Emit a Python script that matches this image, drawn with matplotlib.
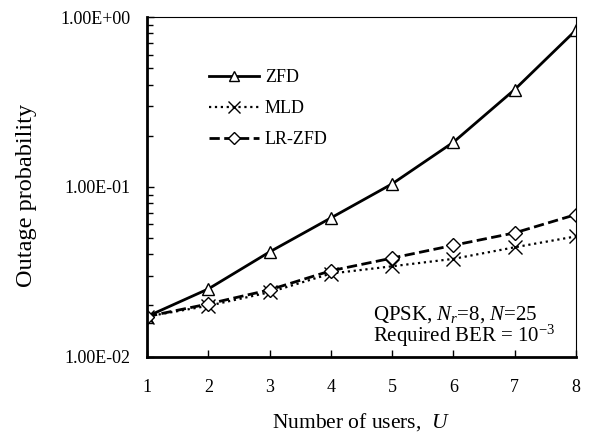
import numpy as np
import matplotlib.pyplot as plt
from matplotlib.ticker import FixedLocator, LogLocator, NullFormatter, FuncFormatter

plt.rcParams["font.family"] = ["Liberation Serif", "DejaVu Serif"]
plt.rcParams["mathtext.fontset"] = "custom"
plt.rcParams["mathtext.rm"] = "Liberation Serif"
plt.rcParams["mathtext.it"] = "Liberation Serif:italic"

users = [1, 2, 3, 4, 5, 6, 7, 8]
zfd = [0.0172, 0.0250, 0.0413, 0.0655, 0.104, 0.183, 0.374, 0.838]
mld = [0.0172, 0.0199, 0.0239, 0.0308, 0.0340, 0.0376, 0.0440, 0.0510]
lr_zfd = [0.0172, 0.0204, 0.0247, 0.0320, 0.0380, 0.0452, 0.0535, 0.0686]

fig = plt.figure(figsize=(5.95, 4.34), dpi=100)
ax = fig.add_axes([147 / 595, 1 - 356.5 / 434, (576 - 147) / 595, (356.5 - 17) / 434])

mk = dict(markersize=9, markerfacecolor="white", markeredgecolor="black",
          markeredgewidth=1.0, color="black")
ax.plot(users, zfd, "-", marker="^", linewidth=2.0, label="ZFD", **mk)
ax.plot(users, mld, ":", marker="x", linewidth=1.6, label="MLD",
        **{**mk, "markersize": 10})
ax.plot(users, lr_zfd, "--", marker="D", linewidth=2.0, label="LR-ZFD",
        **{**mk, "markersize": 7.5})

ax.set_yscale("log")
ax.set_ylim(1e-2, 1e0)
ax.set_xlim(1, 8)
ax.xaxis.set_major_locator(FixedLocator(users))
ax.yaxis.set_major_locator(FixedLocator([1e-2, 1e-1, 1e0]))
ax.yaxis.set_minor_locator(LogLocator(base=10, subs=np.arange(2, 10)))
ax.yaxis.set_minor_formatter(NullFormatter())
ax.yaxis.set_major_formatter(FuncFormatter(lambda v, p: "%.2E" % v))

ax.tick_params(axis="both", which="both", direction="in", labelsize=13,
               colors="black")
ax.tick_params(axis="x", which="major", length=5, width=1, pad=16)
ax.tick_params(axis="y", which="major", length=5, width=1, pad=12)
ax.tick_params(axis="y", which="minor", length=4, width=1)

for side in ["left", "bottom"]:
    ax.spines[side].set_linewidth(2.0)
for side in ["top", "right"]:
    ax.spines[side].set_linewidth(0.8)

ax.set_ylabel("Outage probability", fontsize=17.5, labelpad=17)
ax.yaxis.label.set_y(0.473)
ax.set_xlabel("Number of users,  $\\mathit{U}$", fontsize=15.5, labelpad=11)

ax.legend(loc="upper left", bbox_to_anchor=(0.106, 0.895), frameon=False,
          fontsize=13, handlelength=2.8, labelspacing=0.78, handletextpad=0.3,
          markerscale=0.85)

ax.text(0.527, 0.11, "QPSK, $\\mathit{N_r}$=8, $\\mathit{N}$=25",
        transform=ax.transAxes, ha="left", va="baseline", fontsize=15)
ax.text(0.527, 0.044, "Required BER = $10^{-3}$",
        transform=ax.transAxes, ha="left", va="baseline", fontsize=15)

fig.savefig("out.png", dpi=100)
